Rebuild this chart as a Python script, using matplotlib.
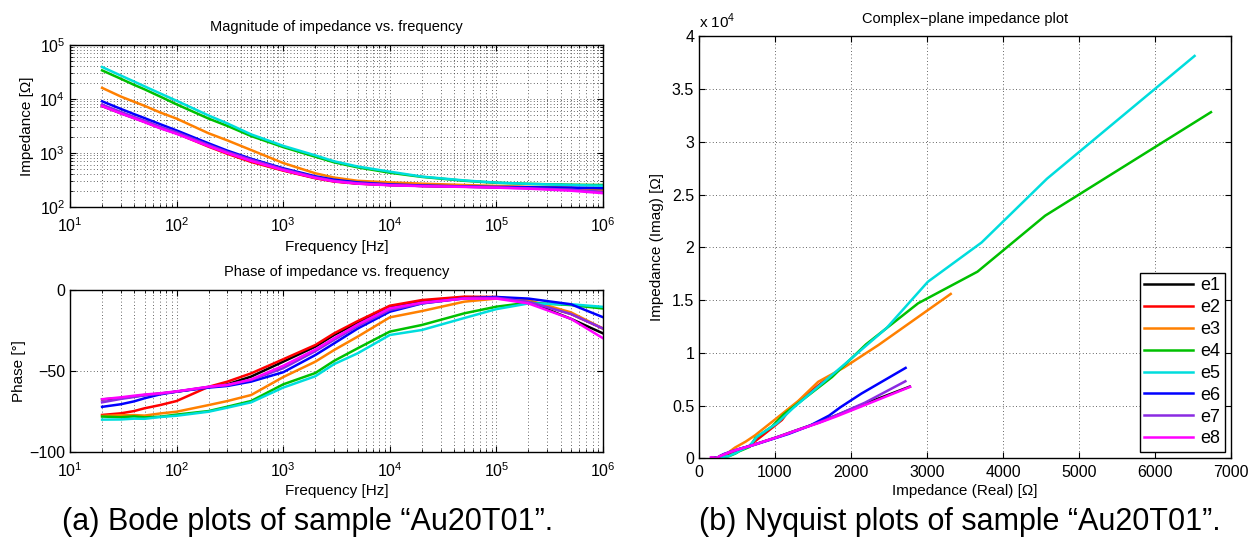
import numpy as np
import matplotlib
matplotlib.use("Agg")
import matplotlib.pyplot as plt
from matplotlib.ticker import FuncFormatter, LogLocator, NullFormatter

plt.rcParams['font.family'] = ['Liberation Sans', 'DejaVu Sans']
plt.rcParams['mathtext.fontset'] = 'custom'
plt.rcParams['mathtext.rm'] = 'Liberation Sans'

# measurement frequencies [Hz]
freq = [20, 30, 40, 50, 70, 100, 200, 300, 500, 1e3, 2e3, 3e3, 5e3,
        1e4, 2e4, 5e4, 1e5, 2e5, 5e5, 1e6]

electrodes = ['e1', 'e2', 'e3', 'e4', 'e5', 'e6', 'e7', 'e8']
colors = ['#000000', '#ff0000', '#ff8000', '#00c000', '#00dddd', '#0000ff', '#8a2be2', '#ff00ff']

# |Z| [Ohm]
mag_e1 = [7340, 5400, 4400, 3750, 2900, 2300, 1350, 1000, 720, 480, 345, 300, 272, 255, 245, 237, 232, 228, 218, 202]
mag_e2 = [7600, 5600, 4500, 3800, 2950, 2300, 1300, 960, 680, 470, 340, 295, 270, 255, 245, 238, 235, 232, 225, 215]
mag_e3 = [15930, 11000, 8800, 7420, 5600, 4300, 2300, 1700, 1130, 650, 420, 350, 305, 285, 270, 255, 245, 235, 225, 205]
mag_e4 = [33500, 23450, 18070, 14980, 11020, 7900, 4300, 3150, 2050, 1280, 850, 670, 540, 430, 360, 305, 280, 268, 258, 255]
mag_e5 = [38700, 26900, 20800, 17000, 12600, 9200, 4900, 3500, 2200, 1350, 900, 700, 560, 450, 365, 310, 282, 268, 255, 248]
mag_e6 = [8990, 6500, 5200, 4400, 3400, 2600, 1500, 1100, 780, 520, 370, 320, 285, 262, 250, 240, 235, 232, 228, 222]
mag_e7 = [7790, 5700, 4600, 3950, 3050, 2400, 1400, 1040, 750, 500, 355, 305, 275, 255, 245, 237, 230, 222, 208, 190]
mag_e8 = [7320, 5350, 4350, 3700, 2850, 2250, 1330, 990, 710, 480, 345, 298, 270, 252, 243, 235, 228, 218, 200, 180]

# phase [deg]
ph_e1 = [-67.8, -67.0, -66.0, -65.1, -64.2, -63.0, -60.2, -58.5, -53.7, -44.5, -35.2, -28.0, -20.5, -10.5, -7.4, -5.0, -4.8, -7.5, -18.0, -27.0]
ph_e2 = [-77.4, -76.4, -75.0, -73.3, -71.3, -68.8, -60.0, -56.8, -51.7, -43.0, -34.2, -27.0, -19.4, -9.9, -6.4, -4.3, -4.5, -7.0, -15.0, -24.0]
ph_e3 = [-78.0, -77.6, -77.5, -77.8, -76.5, -75.4, -71.3, -68.8, -65.1, -54.0, -44.5, -37.3, -29.0, -17.1, -13.2, -7.4, -5.5, -6.5, -14.0, -24.0]
ph_e4 = [-78.4, -78.8, -78.3, -78.9, -78.5, -77.2, -75.0, -72.3, -68.8, -58.5, -51.5, -44.0, -36.2, -25.9, -21.8, -14.6, -10.5, -8.0, -9.5, -11.6]
ph_e5 = [-80.3, -80.2, -79.7, -79.8, -78.7, -77.9, -75.4, -72.9, -69.6, -60.5, -53.5, -46.0, -39.3, -28.0, -24.9, -17.5, -12.0, -8.5, -9.0, -10.6]
ph_e6 = [-72.4, -70.8, -69.0, -67.1, -64.7, -63.0, -60.5, -59.5, -56.8, -51.0, -40.4, -33.2, -24.0, -13.6, -8.5, -5.3, -4.5, -5.5, -9.0, -17.0]
ph_e7 = [-69.6, -67.5, -66.3, -65.3, -64.3, -63.0, -60.0, -59.0, -55.8, -48.5, -38.0, -31.0, -22.5, -12.5, -8.4, -5.3, -5.0, -7.5, -15.0, -24.0]
ph_e8 = [-67.7, -66.5, -65.5, -64.8, -64.0, -62.8, -60.0, -58.8, -55.5, -47.0, -37.0, -30.0, -21.5, -11.5, -8.0, -5.5, -5.5, -8.5, -18.0, -30.0]

mags = [mag_e1, mag_e2, mag_e3, mag_e4, mag_e5, mag_e6, mag_e7, mag_e8]
phases = [ph_e1, ph_e2, ph_e3, ph_e4, ph_e5, ph_e6, ph_e7, ph_e8]

W, H = 1253, 545
fig = plt.figure(figsize=(W / 100, H / 100), dpi=100)

ax_mag = fig.add_axes([70 / W, 1 - 207 / H, 533 / W, 162.3 / H])
ax_ph = fig.add_axes([70 / W, 1 - 451.5 / H, 533 / W, 161.8 / H])
ax_ny = fig.add_axes([699 / W, 1 - 458.3 / H, 532 / W, 421.9 / H])

lw = 1.8
grid_kw = dict(color='#333333', linestyle=(0, (1, 3)), linewidth=0.6)

for m, p, c, name in zip(mags, phases, colors, electrodes):
    m = np.array(m, dtype=float)
    p = np.array(p, dtype=float)
    ax_mag.loglog(freq, m, color=c, lw=lw)
    ax_ph.semilogx(freq, p, color=c, lw=lw)
    # Nyquist from magnitude / phase
    re = m * np.cos(np.radians(p))
    im = -m * np.sin(np.radians(p))
    ax_ny.plot(re, im, color=c, lw=lw, label=name)

# magnitude
ax_mag.set_xlim(10, 1e6)
ax_mag.set_ylim(1e2, 1e5)
ax_mag.set_title('Magnitude of impedance vs. frequency', fontsize=10.5, pad=10)
ax_mag.set_xlabel('Frequency [Hz]', fontsize=11, labelpad=3)
ax_mag.set_ylabel('Impedance [Ω]', fontsize=11, labelpad=4)
ax_mag.grid(True, which='both', **grid_kw)

# phase
ax_ph.set_xlim(10, 1e6)
ax_ph.set_ylim(-100, 0)
ax_ph.set_yticks([-100, -50, 0])
ax_ph.set_title('Phase of impedance vs. frequency', fontsize=10.5, pad=10)
ax_ph.set_xlabel('Frequency [Hz]', fontsize=11, labelpad=3)
ax_ph.set_ylabel('Phase [°]', fontsize=11, labelpad=2)
ax_ph.grid(True, which='major', axis='y', **grid_kw)
ax_ph.grid(True, which='both', axis='x', **grid_kw)

for ax in (ax_mag, ax_ph):
    ax.xaxis.set_major_locator(LogLocator(base=10, numticks=10))
    ax.xaxis.set_minor_locator(LogLocator(base=10, subs=np.arange(2, 10), numticks=20))
    ax.xaxis.set_minor_formatter(NullFormatter())
ax_mag.yaxis.set_minor_locator(LogLocator(base=10, subs=np.arange(2, 10), numticks=20))
ax_mag.yaxis.set_minor_formatter(NullFormatter())

# nyquist
ax_ny.set_xlim(0, 7000)
ax_ny.set_ylim(0, 40000)
ax_ny.set_xticks(np.arange(0, 7001, 1000))
ax_ny.set_yticks(np.arange(0, 40001, 5000))
ax_ny.yaxis.set_major_formatter(FuncFormatter(lambda v, pos: f'{v / 1e4:g}'))
ax_ny.set_title('Complex−plane impedance plot', fontsize=10.5, pad=9.5)
ax_ny.set_xlabel('Impedance (Real) [Ω]', fontsize=11, labelpad=3)
ax_ny.set_ylabel('Impedance (Imag) [Ω]', fontsize=11, labelpad=6)
ax_ny.grid(True, which='major', **grid_kw)
ax_ny.text(0.0, 1.012, r'x 10$^4$', transform=ax_ny.transAxes, fontsize=11,
           ha='left', va='bottom')
leg = ax_ny.legend(loc='lower right', fontsize=13, handlelength=2.7,
                   labelspacing=0.27, borderaxespad=0.35, fancybox=False,
                   edgecolor='black', framealpha=1, handletextpad=0.4,
                   borderpad=0.25)
leg.get_frame().set_linewidth(1.0)

for ax in (ax_mag, ax_ph, ax_ny):
    ax.tick_params(which='both', direction='in', top=True, right=True, labelsize=11.5)
    ax.tick_params(which='major', length=4)
    ax.tick_params(which='minor', length=2)
    for s in ax.spines.values():
        s.set_linewidth(1.0)
for ax in (ax_mag, ax_ph):
    ax.tick_params(axis='x', which='both', pad=7)
ax_ny.tick_params(axis='x', which='both', pad=4.5)

fig.text(308 / W, 1 - 522 / H, '(a) Bode plots of sample “Au20T01”.', fontsize=22,
         ha='center', va='center')
fig.text(960 / W, 1 - 522 / H, '(b) Nyquist plots of sample “Au20T01”.', fontsize=22,
         ha='center', va='center')

fig.savefig('out.png', dpi=100)
